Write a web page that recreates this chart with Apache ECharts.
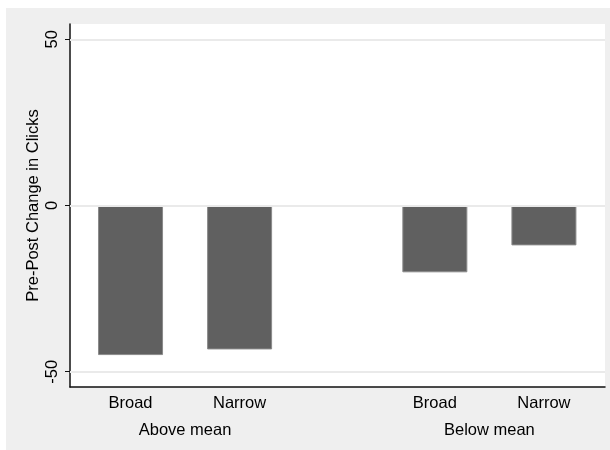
<!DOCTYPE html>
<html>
<head>
<meta charset="utf-8">
<script src="https://cdn.jsdelivr.net/npm/echarts@6/dist/echarts.min.js"></script>
</head>
<body style="margin:0">
<div id="main" style="width:610px;height:450px"></div>
<script>
var groups=['Above mean','Below mean']
var types=['Broad','Narrow']
var aboveVals=[-45.0,-43.3]
var belowVals=[-20.1,-12.0]
var yTicks=[-50,0,50]

// layout of the bar slots on the x axis (1 unit = one bar slot)
var groupStep=2.79
function pos(g,t){return g*groupStep+t}

var vals=[aboveVals,belowVals]
var barData=[],typePos=[],groupPos=[]
for(var g=0;g<groups.length;g++){
	for(var t=0;t<types.length;t++){
		barData.push([pos(g,t),vals[g][t]])
		typePos.push(pos(g,t))
	}
	groupPos.push(pos(g,0.5))
}
function nameAt(list,arr,v){
	for(var i=0;i<list.length;i++){if(Math.abs(list[i]-v)<1e-6)return arr[i]}
	return ''
}
var typeNames=[]
for(var g=0;g<groups.length;g++){for(var t=0;t<types.length;t++)typeNames.push(types[t])}

var font='"Liberation Sans", Arial, sans-serif'
var mychart=echarts.init(document.getElementById('main'))
var option={
	backgroundColor:'#fff',
	animation:false,
	graphic:[
		{type:'rect',z:-10,shape:{x:6,y:8,width:604,height:442},style:{fill:'#efefef'}},
		{type:'rect',z:-9,shape:{x:70,y:24,width:535,height:363},style:{fill:'#fff'}}
	],
	grid:{left:70,top:24,right:5,bottom:63},
	xAxis:[{
		type:'value',min:-0.555,max:4.35,
		axisLine:{show:true,onZero:false,lineStyle:{color:'#111',width:1.5}},
		axisTick:{show:false},
		splitLine:{show:false},
		axisLabel:{customValues:typePos,margin:8,fontSize:16.5,color:'#000',fontFamily:font,
			formatter:function(v){return nameAt(typePos,typeNames,v)}}
	},{
		type:'value',min:-0.555,max:4.35,position:'bottom',offset:27,
		axisLine:{show:false},axisTick:{show:false},splitLine:{show:false},
		axisLabel:{customValues:groupPos,margin:8,fontSize:16.5,color:'#000',fontFamily:font,
			formatter:function(v){return nameAt(groupPos,groups,v)}}
	}],
	yAxis:{
		type:'value',min:-54.6,max:54.6,
		name:'Pre-Post Change in Clicks',nameLocation:'middle',nameRotate:90,nameGap:28,
		nameMoveOverlap:false,
		nameTextStyle:{fontSize:16.5,color:'#000',fontFamily:font},
		axisLine:{show:true,onZero:false,lineStyle:{color:'#111',width:1.5}},
		axisTick:{show:true,customValues:yTicks,length:5,lineStyle:{color:'#111'}},
		splitLine:{show:false},
		axisLabel:{customValues:yTicks,rotate:90,margin:9,fontSize:16.5,color:'#000',fontFamily:font}
	},
	series:[{
		type:'bar',
		xAxisIndex:0,
		barWidth:65,
		data:barData,
		itemStyle:{color:'#606060',borderColor:'#8a8a8a',borderWidth:1},
		markLine:{
			silent:true,symbol:'none',label:{show:false},
			lineStyle:{color:'#eaeaea',width:2,type:'solid'},
			data:yTicks.map(function(v){return {yAxis:v}})
		},
		z:3
	}]
}
mychart.setOption(option)
</script>
</body>
</html>
